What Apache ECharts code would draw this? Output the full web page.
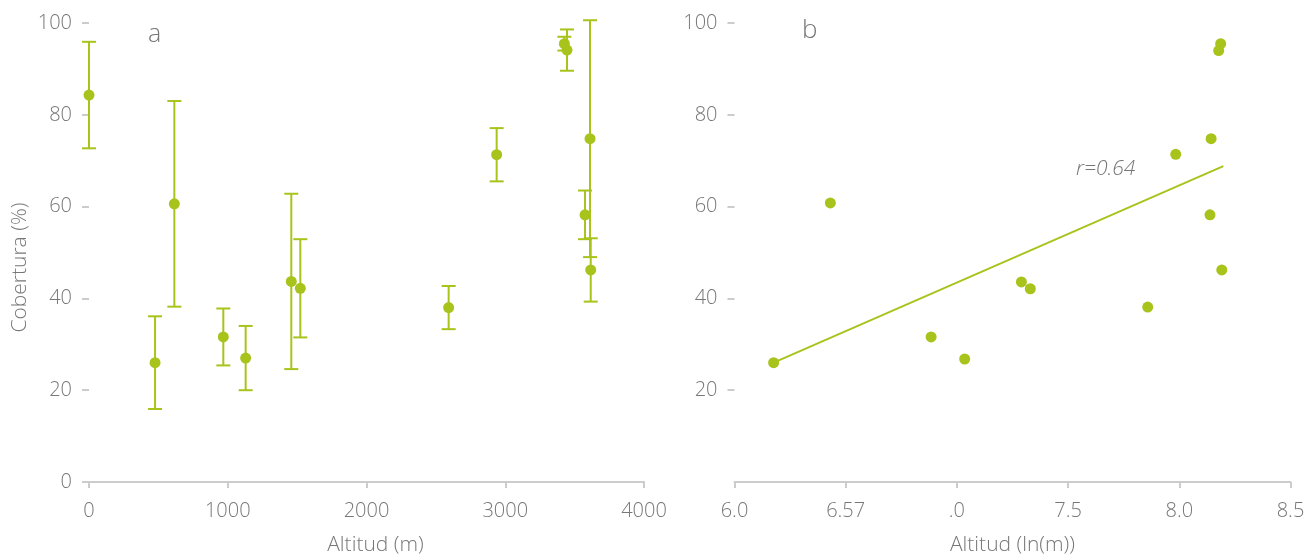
<!DOCTYPE html>
<html>
<head>
<meta charset="utf-8">
<script src="https://cdn.jsdelivr.net/npm/echarts@6/dist/echarts.min.js"></script>
<style>
  html, body { margin: 0; padding: 0; background: #ffffff; }
  #chart { width: 1310px; height: 555px; }
</style>
</head>
<body>
<div id="chart"></div>
<script>
// Panel a: cover (%) against altitude (m), mean ± deviation
const altitudA   = [0, 476, 615, 968, 1129, 1458, 1523, 2592, 2938, 3426, 3445, 3611, 3575, 3616];
const coberturaA = [84.3, 26.0, 60.6, 31.6, 27.0, 43.7, 42.2, 38.0, 71.3, 95.5, 94.1, 74.8, 58.2, 46.2];
const desvioA    = [11.6, 10.1, 22.4, 6.2, 7.0, 19.1, 10.7, 4.7, 5.8, 1.5, 4.5, 25.8, 5.3, 6.9];

// Panel b: cover (%) against ln(altitude)
const lnAltitudB = [6.176, 6.431, 6.884, 7.035, 7.290, 7.330, 7.858, 7.984, 8.143, 8.138, 8.191, 8.177, 8.186];
const coberturaB = [26.0, 60.8, 31.6, 26.8, 43.6, 42.1, 38.1, 71.4, 74.8, 58.2, 46.2, 94.0, 95.5];

// Fitted line for panel b (end points)
const ajusteX = [6.176, 8.198];
const ajusteY = [26.0, 68.8];
const correlacion = 'r=0.64';

// Tick labels
const ticksXA = ['0', '1000', '2000', '3000', '4000'];
const ticksXB = ['6.0', '6.57', '.0', '7.5', '8.0', '8.5'];
const ticksYA = [0, 20, 40, 60, 80, 100];
const ticksYB = [20, 40, 60, 80, 100];

const verde = '#a8c41c';
const gris = '#777777';
const grisEje = '#cccccc';
const fuente = "'Open Sans', 'Noto Sans', sans-serif";

const chart = echarts.init(document.getElementById('chart'), null, { renderer: 'canvas' });

// vertical bar with caps from low to high value
function barrasError(params, api) {
  const x = api.value(0);
  const lo = api.value(1);
  const hi = api.value(2);
  const top = api.coord([x, hi]);
  const bot = api.coord([x, lo]);
  const hw = 7;
  const st = { stroke: verde, lineWidth: 2 };
  return {
    type: 'group',
    children: [
      { type: 'line', shape: { x1: top[0], y1: top[1], x2: bot[0], y2: bot[1] }, style: st },
      { type: 'line', shape: { x1: top[0] - hw, y1: top[1], x2: top[0] + hw, y2: top[1] }, style: st },
      { type: 'line', shape: { x1: bot[0] - hw, y1: bot[1], x2: bot[0] + hw, y2: bot[1] }, style: st }
    ]
  };
}

const labelStyle = { color: gris, fontFamily: fuente, fontSize: 20, fontWeight: 300 };
const nameStyle = { color: gris, fontFamily: fuente, fontSize: 21, fontWeight: 300 };

function ejeY(idx, ticks, conNombre) {
  return {
    type: 'value', gridIndex: idx, min: 0, max: 100, interval: 20,
    name: conNombre ? 'Cobertura (%)' : '',
    nameLocation: 'middle', nameGap: 58, nameRotate: 90,
    nameTextStyle: Object.assign({ padding: [0, 30, 0, 0] }, nameStyle),
    axisLine: { show: false },
    axisTick: { show: true, length: 7, lineStyle: { color: grisEje, width: 2 }, customValues: ticks },
    axisLabel: Object.assign({ margin: 17, customValues: ticks }, labelStyle),
    splitLine: { show: false }
  };
}

const option = {
  backgroundColor: '#ffffff',
  animation: false,
  grid: [
    { left: 89, right: 666, top: 23, bottom: 73, outerBoundsMode: 'none', containLabel: false },
    { left: 734.5, right: 19.5, top: 23, bottom: 73, outerBoundsMode: 'none', containLabel: false }
  ],
  xAxis: [
    {
      type: 'value', gridIndex: 0, min: 0, max: 4000, interval: 1000,
      name: 'Altitud (m)', nameLocation: 'middle', nameGap: 53,
      nameTextStyle: Object.assign({ padding: [0, 0, 0, 18] }, nameStyle),
      axisLine: { show: true, lineStyle: { color: grisEje, width: 2 } },
      axisTick: { show: true, length: 6, lineStyle: { color: grisEje, width: 2 } },
      axisLabel: Object.assign({ margin: 19, formatter: (v) => ticksXA[Math.round(v / 1000)] }, labelStyle),
      splitLine: { show: false }
    },
    {
      type: 'value', gridIndex: 1, min: 6.0, max: 8.5, interval: 0.5,
      name: 'Altitud (ln(m))', nameLocation: 'middle', nameGap: 53,
      nameTextStyle: nameStyle,
      axisLine: { show: true, lineStyle: { color: grisEje, width: 2 } },
      axisTick: { show: true, length: 6, lineStyle: { color: grisEje, width: 2 } },
      axisLabel: Object.assign({ margin: 19, formatter: (v) => ticksXB[Math.round((v - 6.0) / 0.5)] }, labelStyle),
      splitLine: { show: false }
    }
  ],
  yAxis: [ejeY(0, ticksYA, true), ejeY(1, ticksYB, false)],
  graphic: [
    { type: 'text', left: 148, top: 22, style: { text: 'a', fill: gris, font: '300 25px ' + fuente } },
    { type: 'text', left: 802, top: 18, style: { text: 'b', fill: gris, font: '300 26px ' + fuente } },
    { type: 'text', left: 1076, top: 159, style: { text: correlacion, fill: gris, font: 'italic 300 21px ' + fuente } }
  ],
  series: [
    {
      type: 'custom', xAxisIndex: 0, yAxisIndex: 0,
      renderItem: barrasError,
      encode: { x: 0, y: [1, 2] },
      data: altitudA.map((x, i) => [x, coberturaA[i] - desvioA[i], coberturaA[i] + desvioA[i]]),
      z: 2
    },
    {
      type: 'scatter', xAxisIndex: 0, yAxisIndex: 0,
      symbolSize: 11, itemStyle: { color: verde, opacity: 1 },
      data: altitudA.map((x, i) => [x, coberturaA[i]]),
      z: 3
    },
    {
      type: 'line', xAxisIndex: 1, yAxisIndex: 1,
      showSymbol: false, symbol: 'none',
      lineStyle: { color: verde, width: 2 },
      data: ajusteX.map((x, i) => [x, ajusteY[i]]),
      z: 2
    },
    {
      type: 'scatter', xAxisIndex: 1, yAxisIndex: 1,
      symbolSize: 11, itemStyle: { color: verde, opacity: 1 },
      data: lnAltitudB.map((x, i) => [x, coberturaB[i]]),
      z: 3
    }
  ]
};

chart.setOption(option);
</script>
</body>
</html>
